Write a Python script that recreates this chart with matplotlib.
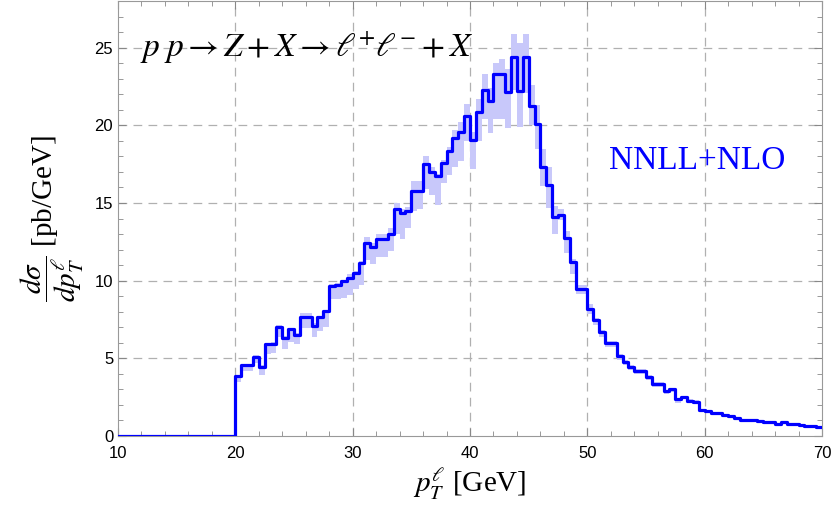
import numpy as np
import matplotlib
matplotlib.use('Agg')
import matplotlib.pyplot as plt
from matplotlib.ticker import MultipleLocator

plt.rcParams['mathtext.fontset'] = 'stix'

# bins de 0.5 GeV entre 20 e 70 GeV
bin_lo = np.arange(20.0, 70.0, 0.5)

central = [3.85, 4.56, 4.56, 5.10, 4.45, 5.90, 5.95, 7.00, 6.34, 6.86,
           6.53, 7.67, 7.67, 7.09, 7.63, 8.03, 9.68, 9.70, 9.95, 10.18,
           10.50, 11.16, 12.42, 12.20, 12.70, 12.70, 13.03, 14.59, 14.38, 14.50,
           15.77, 15.80, 17.52, 16.99, 16.71, 17.59, 18.38, 19.17, 19.56, 20.63,
           19.09, 20.84, 22.28, 21.59, 23.31, 23.31, 22.13, 24.42, 22.24, 24.42,
           21.27, 20.10, 17.31, 16.13, 14.10, 14.25, 12.75, 11.20, 9.47, 9.47,
           8.18, 7.46, 6.70, 5.96, 5.96, 5.16, 4.78, 4.45, 4.18, 4.18,
           3.80, 3.35, 3.35, 2.88, 3.00, 2.35, 2.52, 2.28, 2.22, 1.66,
           1.58, 1.48, 1.45, 1.35, 1.30, 1.18, 1.05, 1.03, 1.02, 0.96,
           0.93, 0.87, 0.76, 0.92, 0.76, 0.74, 0.69, 0.66, 0.63, 0.56]

band_low = [3.45, 4.20, 4.20, 4.70, 3.95, 5.30, 5.35, 6.40, 5.60, 6.05,
            5.90, 6.95, 6.95, 6.35, 6.75, 7.00, 8.80, 8.80, 8.90, 9.05,
            9.45, 9.75, 11.35, 11.10, 11.50, 11.50, 11.90, 13.00, 12.70, 13.40,
            14.50, 14.60, 15.90, 15.50, 14.90, 16.30, 16.80, 17.30, 17.70, 19.00,
            17.20, 19.00, 20.40, 19.50, 20.40, 20.40, 19.80, 22.30, 19.90, 22.10,
            20.00, 18.50, 16.10, 14.70, 13.00, 13.90, 11.80, 10.40, 9.15, 9.15,
            7.85, 7.15, 6.40, 5.70, 5.70, 4.90, 4.55, 4.25, 4.00, 4.00,
            3.60, 3.15, 3.15, 2.70, 2.80, 2.15, 2.35, 2.10, 2.05, 1.52,
            1.48, 1.38, 1.35, 1.26, 1.21, 1.09, 0.97, 0.95, 0.94, 0.88,
            0.85, 0.80, 0.70, 0.85, 0.70, 0.68, 0.63, 0.61, 0.58, 0.51]

band_high = [3.95, 4.65, 4.65, 5.20, 4.55, 6.00, 6.05, 7.15, 6.45, 6.95,
             6.65, 7.95, 7.95, 7.30, 7.70, 8.10, 9.80, 9.85, 10.05, 10.40,
             10.65, 11.25, 12.80, 12.40, 13.00, 13.00, 13.40, 15.00, 14.60, 14.75,
             16.40, 16.45, 18.00, 17.30, 16.90, 17.80, 18.60, 19.70, 20.20, 21.40,
             19.60, 21.70, 23.30, 22.40, 24.00, 24.30, 23.60, 25.90, 25.30, 25.90,
             22.60, 21.30, 18.50, 17.30, 14.80, 14.60, 13.20, 11.40, 9.70, 9.70,
             8.50, 7.60, 6.85, 6.10, 6.10, 5.30, 4.90, 4.55, 4.30, 4.30,
             3.90, 3.45, 3.45, 2.95, 3.10, 2.45, 2.60, 2.35, 2.30, 1.75,
             1.63, 1.53, 1.50, 1.40, 1.35, 1.23, 1.10, 1.08, 1.07, 1.01,
             0.98, 0.92, 0.81, 0.97, 0.81, 0.79, 0.74, 0.71, 0.68, 0.61]

# antes de 20 GeV a distribuição é zero
x_line = np.concatenate([[10.0], bin_lo, [70.0]])
y_line = np.concatenate([[0.0], central, [central[-1]]])

fig = plt.figure(figsize=(8.34, 5.11), dpi=100)
ax = fig.add_axes([0.1415, 0.1468, 0.8441, 0.851])

edges = np.concatenate([bin_lo, [70.0]])
lo = np.concatenate([band_low, [band_low[-1]]])
hi = np.concatenate([band_high, [band_high[-1]]])
ax.fill_between(edges, lo, hi, step='post', color='#c8c8fa', linewidth=0, zorder=2)

ax.step(x_line, y_line, where='post', color='#0000ff', linewidth=2.3, zorder=3)

ax.set_xlim(10, 70)
ax.set_ylim(0, 28)

ax.xaxis.set_major_locator(MultipleLocator(10))
ax.xaxis.set_minor_locator(MultipleLocator(2))
ax.yaxis.set_major_locator(MultipleLocator(5))
ax.yaxis.set_minor_locator(MultipleLocator(1))
ax.tick_params(which='both', direction='in', top=True, right=True, color='#888888')
ax.tick_params(which='major', length=6, width=0.8, labelsize=12)
ax.tick_params(axis='x', which='major', pad=7)
ax.tick_params(which='minor', length=3.5, width=0.6)
for lbl in ax.get_xticklabels() + ax.get_yticklabels():
    lbl.set_family('Liberation Sans')
for sp in ax.spines.values():
    sp.set_color('#999999')

# grade tracejada
for gx in [20, 30, 40, 50, 60]:
    ax.axvline(gx, color='#b0b0b0', linestyle=(0, (7, 5)), linewidth=0.9, zorder=1)
for gy in [5, 10, 15, 20, 25]:
    ax.axhline(gy, color='#b0b0b0', linestyle=(0, (7, 5)), linewidth=0.9, zorder=1)

ax.text(11.9, 25.0, r'$p\;p \rightarrow Z + X \rightarrow \ell^{+}\ell^{-} + X$',
        fontsize=24, va='center', ha='left', zorder=4)
ax.text(59.4, 17.7, 'NNLL+NLO', color='#0000ff', fontsize=24,
        family='Liberation Serif', ha='center', va='center')

ax.set_xlabel(r'$p_T^{\ell}$ [GeV]', fontsize=21, family='Liberation Serif', labelpad=4)
ax.set_ylabel(r'$\dfrac{d\sigma}{dp_T^{\ell}}$ [pb/GeV]', fontsize=21,
              family='Liberation Serif', labelpad=6)

plt.savefig('out.png', dpi=100)
